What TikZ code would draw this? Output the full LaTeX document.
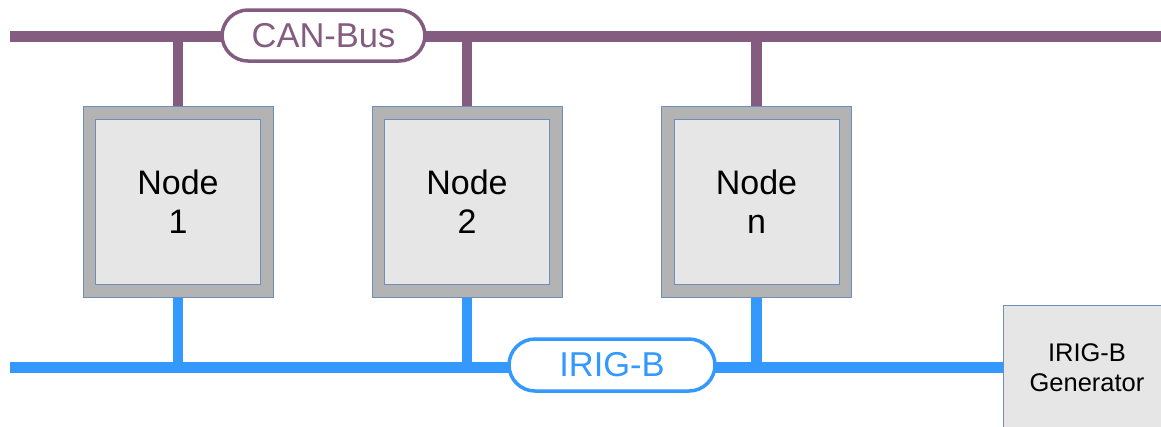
\documentclass[tikz,border=0pt]{standalone}
\usepackage{fontspec}
\setmainfont{Liberation Sans}
\definecolor{canc}{HTML}{845C80}
\definecolor{irigc}{HTML}{3399FF}
\definecolor{outerg}{HTML}{B3B3B3}
\definecolor{innerg}{HTML}{E6E6E6}
\definecolor{edgeb}{HTML}{6C8EBF}
\begin{document}
\begin{tikzpicture}[x=1pt,y=-1pt,
  canline/.style={draw=canc,line width=10.5pt},
  irigline/.style={draw=irigc,line width=10.5pt},
  outerbox/.style={draw=edgeb,line width=1pt,fill=outerg,minimum width=190pt,minimum height=191pt,inner sep=0pt},
  innerbox/.style={draw=edgeb,line width=1pt,fill=innerg,minimum width=165pt,minimum height=165pt,inner sep=0pt,align=center,font=\fontsize{34}{39}\selectfont},
  buslabel/.style={line width=3.5pt,fill=white,rounded corners=26pt,inner sep=0pt,font=\fontsize{34.5}{40}\selectfont},
  genbox/.style={draw=edgeb,line width=1pt,fill=innerg,minimum width=168pt,minimum height=126pt,inner sep=0pt,align=center,font=\fontsize{25.5}{30}\selectfont}]
\useasboundingbox (0,0) rectangle (1161,426);
\clip (0,0) rectangle (1161,426);
% coordinates
\coordinate (canL) at (10,36.5);
\coordinate (canR) at (1162,36.5);
\coordinate (irigL) at (10,367.5);
% nodes
\node[outerbox] (o1) at (178,201.5) {};
\node[outerbox] (o2) at (467,201.5) {};
\node[outerbox] (on) at (756.5,201.5) {};
\node[genbox] (gen) at (1087,368) {IRIG-B\\Generator};
% buses
\draw[canline] (canL) -- (canR);
\draw[irigline] (irigL) -- (gen.west |- irigL);
\coordinate (c1) at (o1 |- canL);
\coordinate (c2) at (o2 |- canL);
\coordinate (cn) at (on |- canL);
\coordinate (i1) at (o1 |- irigL);
\coordinate (i2) at (o2 |- irigL);
\coordinate (in) at (on |- irigL);
\draw[canline] (c1) -- (o1.north);
\draw[canline] (c2) -- (o2.north);
\draw[canline] (cn) -- (on.north);
\draw[irigline] (i1) -- (o1.south);
\draw[irigline] (i2) -- (o2.south);
\draw[irigline] (in) -- (on.south);
% boxes on top
\node[outerbox] at (o1) {};
\node[outerbox] at (o2) {};
\node[outerbox] at (on) {};
\node[innerbox] (n1) at (o1) {Node\\1};
\node[innerbox] (n2) at (o2) {Node\\2};
\node[innerbox] (nn) at (on) {Node\\n};
\node[genbox] at (gen) {IRIG-B\\Generator};
% bus labels
\node[buslabel,draw=canc,text=canc,minimum width=203pt,minimum height=51pt] (canlab) at (323.5,35.5) {CAN-Bus};
\node[buslabel,draw=irigc,text=irigc,minimum width=206pt,minimum height=52pt] (iriglab) at (612,365) {IRIG-B};
\end{tikzpicture}
\end{document}
